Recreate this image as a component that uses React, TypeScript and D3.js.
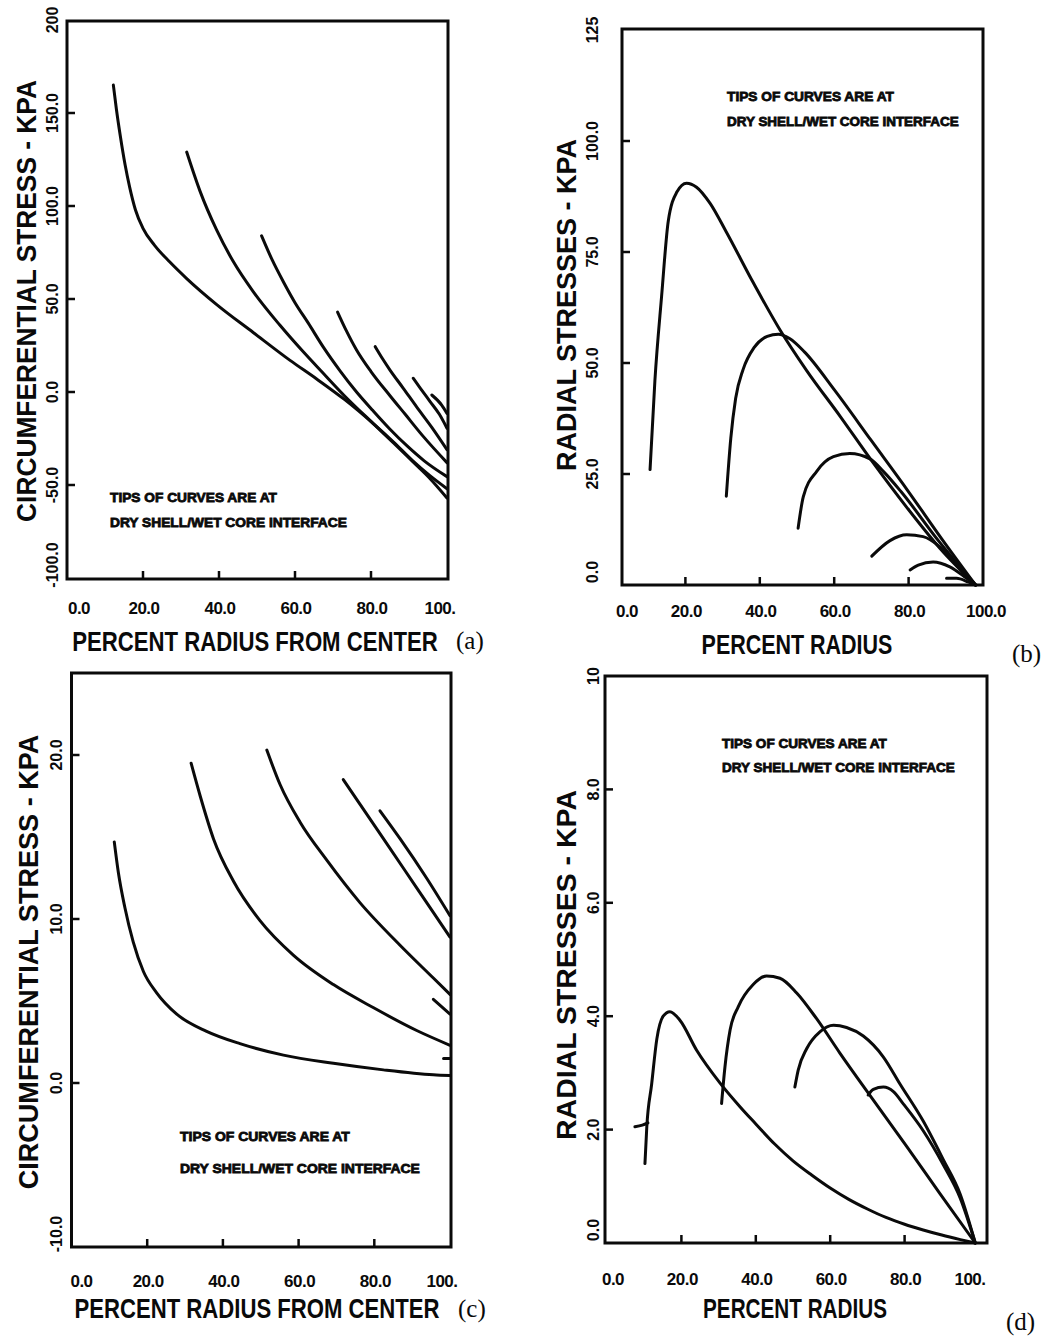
import React, { useLayoutEffect, useRef, useState } from "react";
import * as d3 from "d3";

type Pt = [number, number];

// ---------- Panel (a): circumferential stress, KPA ----------
const aCurve10: Pt[] = [[12.2,165],[13,152],[14,138],[15.3,122],[16.5,110],[18,98],[20,88],[23,79],[27,70],[31.5,61],[39.4,47],[49,32],[58.7,17],[65.7,7],[73,-4],[80.6,-17],[86,-27],[91,-37],[95.5,-45],[100,-52]];
const aCurve30: Pt[] = [[31.5,129],[35,108],[39.4,87],[43.8,70],[49,54],[56,36],[62,22],[67,11],[73,-2],[80.6,-17],[86,-27.5],[91,-37.5],[95.5,-46.5],[100,-57]];
const aCurve50: Pt[] = [[51.2,84],[54,71],[57,59],[60,48],[63.5,37],[67.5,24],[72,11],[76.2,0],[80.5,-10],[85,-20],[89.5,-29],[94,-37],[100,-45.5]];
const aCurve70: Pt[] = [[71.2,43],[73.5,33],[76.2,22.6],[80,11],[85,-2],[89,-12],[93.8,-24],[100,-38]];
const aCurve80: Pt[] = [[81.1,24.4],[83,18],[85,11.8],[88.5,2],[92,-8],[96,-19],[100,-31]];
const aCurve90: Pt[] = [[91.1,7.4],[93,2],[95.5,-5],[98,-12],[100,-19.5]];
const aCurve95: Pt[] = [[96,-1.6],[98.6,-7],[100,-11.5]];
const aYTickValues = [200, 150, 100, 50, 0, -50, -100];
const aYTickLabels = ["200", "150.0", "100.0", "50.0", "0.0", "-50.0", "-100.0"];
const aYTickMarks = [150, 100, 50, 0, -50];

// ---------- Panel (b): radial stresses, KPA ----------
const bCurve10: Pt[] = [[10.5,26],[11.8,46],[13.6,65],[15.4,82],[17.7,88.5],[20.3,90.5],[23,89.6],[26.6,86],[31,79.5],[38.3,68],[45.4,57.5],[52.6,48.3],[61.6,38],[70.5,27.5],[79.5,17.5],[88.4,8.3],[98,0]];
const bCurve30: Pt[] = [[31,20],[32.2,33],[33.5,42],[35.5,48.5],[38.5,53.5],[42,56],[45,56.5],[48,55.5],[52,52.5],[60,44],[70,32.5],[80,21],[89,10.3],[98,0]];
const bCurve50: Pt[] = [[50.3,12.8],[51.7,19.9],[55.3,25.6],[59.8,28.9],[64.2,29.6],[69.6,28.4],[73.2,25.6],[78,21],[88,10],[98,0]];
const bCurve70: Pt[] = [[70.1,6.5],[75,10],[79.5,11.3],[83.9,10.9],[88.4,8.6],[93,4.5],[98,0]];
const bCurve80: Pt[] = [[80.4,3.4],[82.6,4.5],[86.6,5.2],[91.1,4.1],[95.6,1.5],[98,0]];
const bCurve90: Pt[] = [[90.2,1.5],[92.9,1.5],[96,0.7],[98,0]];
const bYTickValues = [125, 100, 75, 50, 25, 0];
const bYTickLabels = ["125", "100.0", "75.0", "50.0", "25.0", "0.0"];
const bYTickMarks = [100, 75, 50, 25];

// ---------- Panel (c): circumferential stress, KPA ----------
const cCurve10: Pt[] = [[11.3,14.7],[12.4,12.8],[14.1,10.7],[16.3,8.6],[19,6.8],[22.5,5.5],[27.8,4.2],[35.7,3.15],[44.5,2.4],[56,1.7],[69.2,1.2],[82.4,0.8],[95.6,0.5],[100,0.45]];
const cCurve30: Pt[] = [[31.6,19.5],[34,17.5],[37.5,14.9],[42.8,12.3],[49.8,9.9],[58.6,7.8],[69.2,6.0],[79.7,4.6],[91.2,3.2],[100,2.3]];
const cCurve50: Pt[] = [[51.6,20.3],[55.1,18.2],[60.4,15.9],[67.4,13.6],[76.2,11.0],[86.8,8.4],[95.6,6.4],[100,5.4]];
const cCurve70: Pt[] = [[71.8,18.5],[76.2,17],[82.4,14.9],[91.2,11.9],[100,8.9]];
const cCurve80: Pt[] = [[81.5,16.6],[86.8,14.9],[93.8,12.5],[100,10.2]];
const cCurve90: Pt[] = [[95.6,5.1],[100,4.2]];
const cCurve95: Pt[] = [[98.3,1.5],[100,1.5]];
const cYTickValues = [20, 10, 0, -10];
const cYTickLabels = ["20.0", "10.0", "0.0", "-10.0"];
const cYTickMarks = [20, 10, 0];

// ---------- Panel (d): radial stresses, KPA ----------
const dCurve10Hook: Pt[] = [[7.5,2.05],[9.5,2.08],[11,2.12]];
const dCurve10: Pt[] = [[10.2,1.4],[10.7,2.05],[12,2.8],[13.4,3.6],[15.1,4.0],[16.9,4.08],[19.6,3.93],[24.1,3.4],[30.4,2.82],[35.8,2.4],[40,2.1],[45,1.75],[50,1.45],[55,1.2],[60,0.97],[65,0.77],[70,0.6],[75,0.45],[80,0.33],[85,0.23],[90,0.14],[95,0.06],[99,0]];
const dCurve30: Pt[] = [[30.8,2.46],[31.7,3.1],[33.1,3.76],[35.3,4.17],[39.3,4.56],[42.9,4.71],[46.5,4.67],[51,4.41],[56.3,3.96],[62.6,3.35],[71.6,2.52],[80.6,1.7],[89.5,0.87],[99,0]];
const dCurve50: Pt[] = [[50.5,2.75],[51.4,3.05],[53.7,3.43],[57.3,3.73],[60.9,3.84],[64.4,3.8],[68.9,3.65],[74.3,3.28],[78.8,2.8],[85,2.15],[90.4,1.47],[94.9,0.87],[99,0]];
const dCurve70: Pt[] = [[70.2,2.61],[71.6,2.71],[74.3,2.75],[77,2.67],[79.7,2.45],[85,1.98],[90.4,1.38],[94.9,0.8],[99,0]];
const dYTickValues = [10, 8, 6, 4, 2, 0];
const dYTickLabels = ["10", "8.0", "6.0", "4.0", "2.0", "0.0"];
const dYTickMarks = [8, 6, 4, 2];

// ---------- shared ----------
const xTickValues = [0, 20, 40, 60, 80, 100];
const xTickMarks = [20, 40, 60, 80];
const xLabelsAC = ["0.0", "20.0", "40.0", "60.0", "80.0", "100."];
const xLabelsB = ["0.0", "20.0", "40.0", "60.0", "80.0", "100.0"];
const xLabelsD = ["0.0", "20.0", "40.0", "60.0", "80.0", "100."];
const noteLine1 = "TIPS OF CURVES ARE AT";
const noteLine2 = "DRY SHELL/WET CORE INTERFACE";

const SANS = "'Liberation Sans', Arial, Helvetica, sans-serif";
const SERIF = "'Liberation Serif', 'Times New Roman', serif";
const INK = "#0a0a0a";

type PanelCfg = {
  xDomain: [number, number];
  xRange: [number, number];
  yDomain: [number, number];
  yRange: [number, number];
  frame: { l: number; r: number; t: number; b: number };
  curves: Pt[][];
  yTickValues: number[];
  yTickLabels: string[];
  yTickMarks: number[];
  yLabelX: number;
  xLabels: string[];
  xLabelY: number;
  xLabelFirstDx: number;
  xLabelLastDx: number;
  yTitle: { text: string; x: number; y: number; len: number };
  xTitle: { text: string; x: number; y: number; len: number };
  tag: { text: string; x: number; y: number };
  note: { x: number; y1: number; y2: number; len1: number; len2: number };
};

const panels: PanelCfg[] = [
  {
    xDomain: [0, 100], xRange: [67, 447],
    yDomain: [-100, 200], yRange: [578, 20],
    frame: { l: 67, r: 448, t: 21, b: 579 },
    curves: [aCurve10, aCurve30, aCurve50, aCurve70, aCurve80, aCurve90, aCurve95],
    yTickValues: aYTickValues, yTickLabels: aYTickLabels, yTickMarks: aYTickMarks,
    yLabelX: 52,
    xLabels: xLabelsAC, xLabelY: 614, xLabelFirstDx: 12, xLabelLastDx: -7,
    yTitle: { text: "CIRCUMFERENTIAL STRESS - KPA", x: 26, y: 301, len: 442 },
    xTitle: { text: "PERCENT RADIUS FROM CENTER", x: 255, y: 651, len: 366 },
    tag: { text: "(a)", x: 456, y: 649 },
    note: { x: 110, y1: 502, y2: 527, len1: 167, len2: 237 },
  },
  {
    xDomain: [0, 100], xRange: [611, 983],
    yDomain: [0, 125], yRange: [585, 30],
    frame: { l: 622, r: 983, t: 29, b: 585 },
    curves: [bCurve10, bCurve30, bCurve50, bCurve70, bCurve80, bCurve90],
    yTickValues: bYTickValues, yTickLabels: bYTickLabels, yTickMarks: bYTickMarks,
    yLabelX: 592,
    xLabels: xLabelsB, xLabelY: 617, xLabelFirstDx: 16, xLabelLastDx: 3,
    yTitle: { text: "RADIAL STRESSES - KPA", x: 566, y: 305, len: 332 },
    xTitle: { text: "PERCENT RADIUS", x: 797, y: 654, len: 191 },
    tag: { text: "(b)", x: 1012, y: 662 },
    note: { x: 727, y1: 101, y2: 126, len1: 167, len2: 232 },
  },
  {
    xDomain: [0, 100], xRange: [71.5, 450],
    yDomain: [-10, 25], yRange: [1247, 673],
    frame: { l: 71.5, r: 451, t: 673, b: 1247 },
    curves: [cCurve10, cCurve30, cCurve50, cCurve70, cCurve80, cCurve90, cCurve95],
    yTickValues: cYTickValues, yTickLabels: cYTickLabels, yTickMarks: cYTickMarks,
    yLabelX: 56,
    xLabels: xLabelsAC, xLabelY: 1287, xLabelFirstDx: 10, xLabelLastDx: -8,
    yTitle: { text: "CIRCUMFERENTIAL STRESS - KPA", x: 28, y: 962, len: 455 },
    xTitle: { text: "PERCENT RADIUS FROM CENTER", x: 257, y: 1318, len: 365 },
    tag: { text: "(c)", x: 458, y: 1317 },
    note: { x: 180, y1: 1141, y2: 1173, len1: 170, len2: 240 },
  },
  {
    xDomain: [0, 100], xRange: [607, 979],
    yDomain: [0, 10], yRange: [1243, 676],
    frame: { l: 605, r: 987, t: 676, b: 1243 },
    curves: [dCurve10Hook, dCurve10, dCurve30, dCurve50, dCurve70],
    yTickValues: dYTickValues, yTickLabels: dYTickLabels, yTickMarks: dYTickMarks,
    yLabelX: 593,
    xLabels: xLabelsD, xLabelY: 1285, xLabelFirstDx: 6, xLabelLastDx: -9,
    yTitle: { text: "RADIAL STRESSES - KPA", x: 566, y: 965, len: 350 },
    xTitle: { text: "PERCENT RADIUS", x: 795, y: 1318, len: 184 },
    tag: { text: "(d)", x: 1006, y: 1330 },
    note: { x: 722, y1: 748, y2: 772, len1: 165, len2: 233 },
  },
];

// Text squeezed horizontally to a target length via a real transform,
// so its on-screen box matches what is drawn.
function FitText(props: {
  x: number;
  y: number;
  len: number;
  rotate?: number;
  anchor?: "start" | "middle";
  fontSize: number;
  strokeW?: number;
  baseline?: string;
  children: string;
}) {
  const ref = useRef<SVGTextElement>(null);
  const [s, setS] = useState(1);
  useLayoutEffect(() => {
    if (ref.current) {
      const w = ref.current.getComputedTextLength();
      if (w > 0) setS(props.len / w);
    }
  }, [props.len, props.children, props.fontSize]);
  const rot = props.rotate ? ` rotate(${props.rotate})` : "";
  return (
    <text
      ref={ref}
      transform={`translate(${props.x},${props.y})${rot} scale(${s},1)`}
      textAnchor={props.anchor || "start"}
      dominantBaseline={props.baseline as any}
      fontFamily={SANS}
      fontWeight="bold"
      fontSize={props.fontSize}
      fill={INK}
      stroke={props.strokeW ? INK : undefined}
      strokeWidth={props.strokeW}
    >
      {props.children}
    </text>
  );
}

function Panel({ cfg }: { cfg: PanelCfg }) {
  const x = d3.scaleLinear().domain(cfg.xDomain).range(cfg.xRange);
  const y = d3.scaleLinear().domain(cfg.yDomain).range(cfg.yRange);
  const line = d3
    .line<Pt>()
    .x((d) => x(d[0]))
    .y((d) => y(d[1]))
    .curve(d3.curveMonotoneX);
  const f = cfg.frame;
  const yMin = Math.min(...cfg.yDomain);
  return (
    <g>
      <rect x={f.l} y={f.t} width={f.r - f.l} height={f.b - f.t} fill="none" stroke={INK} strokeWidth={3} />
      {xTickMarks.map((v) => (
        <line key={"xt" + v} x1={x(v)} x2={x(v)} y1={f.b} y2={f.b - 8} stroke={INK} strokeWidth={2.5} />
      ))}
      {cfg.yTickMarks.map((v) => (
        <line key={"yt" + v} x1={f.l} x2={f.l + 8} y1={y(v)} y2={y(v)} stroke={INK} strokeWidth={2.5} />
      ))}
      {cfg.curves.map((c, i) => (
        <path key={"c" + i} d={line(c) || ""} fill="none" stroke={INK} strokeWidth={3} strokeLinecap="round" strokeLinejoin="round" />
      ))}
      {cfg.yTickValues.map((v, i) => {
        const yy = v === yMin ? y(v) - 13 : y(v);
        return (
          <text
            key={"yl" + v}
            transform={`translate(${cfg.yLabelX},${yy}) rotate(-90)`}
            textAnchor="middle"
            dominantBaseline="central"
            fontFamily={SANS}
            fontWeight="bold"
            fontSize={16}
            fill={INK}
          >
            {cfg.yTickLabels[i]}
          </text>
        );
      })}
      {xTickValues.map((v, i) => {
        const dx = i === 0 ? cfg.xLabelFirstDx : i === xTickValues.length - 1 ? cfg.xLabelLastDx : 1;
        return (
          <text
            key={"xl" + v}
            x={x(v) + dx}
            y={cfg.xLabelY}
            textAnchor="middle"
            fontFamily={SANS}
            fontWeight="bold"
            fontSize={17}
            letterSpacing={-0.5}
            fill={INK}
          >
            {cfg.xLabels[i]}
          </text>
        );
      })}
      <FitText x={cfg.yTitle.x} y={cfg.yTitle.y} len={cfg.yTitle.len} rotate={-90} anchor="middle" baseline="central" fontSize={28}>
        {cfg.yTitle.text}
      </FitText>
      <FitText x={cfg.xTitle.x} y={cfg.xTitle.y} len={cfg.xTitle.len} anchor="middle" fontSize={27}>
        {cfg.xTitle.text}
      </FitText>
      <text x={cfg.tag.x} y={cfg.tag.y} fontFamily={SERIF} fontSize={25} fill={INK}>
        {cfg.tag.text}
      </text>
      <FitText x={cfg.note.x} y={cfg.note.y1} len={cfg.note.len1} fontSize={13} strokeW={0.8}>
        {noteLine1}
      </FitText>
      <FitText x={cfg.note.x} y={cfg.note.y2} len={cfg.note.len2} fontSize={13} strokeW={0.8}>
        {noteLine2}
      </FitText>
    </g>
  );
}

export default function App() {
  return (
    <div style={{ position: "absolute", left: 0, top: 0 }}>
      <svg width={1055} height={1336} viewBox="0 0 1055 1336" style={{ display: "block", background: "#fff" }}>
        <rect x={0} y={0} width={1055} height={1336} fill="#fff" />
        {panels.map((p, i) => (
          <Panel key={i} cfg={p} />
        ))}
      </svg>
    </div>
  );
}
